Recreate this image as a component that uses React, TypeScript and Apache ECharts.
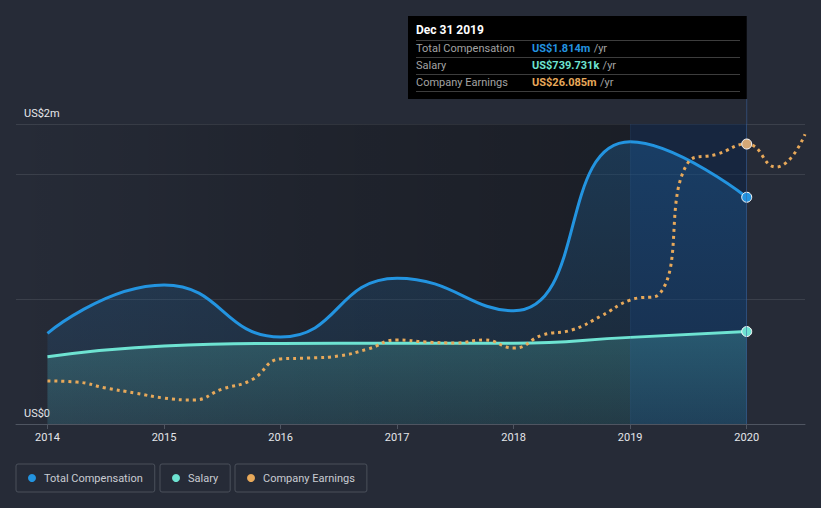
import React, { useEffect, useRef } from "react";
import * as echarts from "echarts";

// ---- data (US$ millions) ----
const years = [2014, 2015, 2016, 2017, 2018, 2019, 2020];
const totalCompensation = [0.725, 1.112, 0.696, 1.166, 0.906, 2.258, 1.814];
const salary = [0.538, 0.624, 0.645, 0.647, 0.647, 0.693, 0.7397];
const earningsDates = [
  2014.0, 2014.25, 2014.5, 2014.75, 2015.0, 2015.25, 2015.5, 2015.75, 2016.0, 2016.25,
  2016.5, 2016.75, 2017.0, 2017.25, 2017.5, 2017.75, 2018.0, 2018.25, 2018.5, 2018.75,
  2019.0, 2019.25, 2019.5, 2019.75, 2020.0, 2020.25, 2020.5,
];
const companyEarnings = [
  4.01, 3.91, 3.35, 2.89, 2.42, 2.24, 3.26, 4.1, 6.06, 6.15,
  6.34, 6.99, 7.83, 7.64, 7.55, 7.83, 7.08, 8.29, 8.76, 10.06,
  11.55, 12.11, 24.41, 25.15, 26.085, 23.94, 27.0,
];
const yTickLabels = ["US$0", "US$2m"];
const tooltipTitle = "Dec 31 2019";
const tooltipLabels = ["Total Compensation", "Salary", "Company Earnings"];
const tooltipValues = ["US$1.814m", "US$739.731k", "US$26.085m"];
const seriesNames = ["Total Compensation", "Salary", "Company Earnings"];
const highlightRange = [2019, 2020];

const BLUE = "#2394e0";
const TEAL = "#6ee3d2";
const ORANGE = "#e8a95a";
const BG = "#262b37";
const FONT = "Roboto";

export default function App() {
  const ref = useRef<HTMLDivElement>(null);
  useEffect(() => {
    document.body.style.margin = "0";
    document.body.style.background = BG;
    const chart = echarts.init(ref.current!, null, { renderer: "svg" });
    const lastIdx = (arr: number[]) => arr.length - 1;
    const endSymbol = (n: number) => (_v: any, p: any) => (p.dataIndex === n ? 10 : 0);
    const xMin = 2013.73;
    const xMax = 2020.5;
    const yMax = 2.4;
    const legendColors = [BLUE, TEAL, ORANGE];
    const legendLefts = [16, 160, 235];

    const legendBase = {
      top: 464,
      icon: "circle",
      itemWidth: 8,
      itemHeight: 8,
      padding: [7, 12, 7, 12],
      borderColor: "#4a505b",
      borderWidth: 1,
      borderRadius: 2,
      selectedMode: false,
      textStyle: { color: "#c9ccd2", fontSize: 11, fontFamily: FONT, padding: [0, 0, 0, 3], lineHeight: 14 },
    };

    chart.setOption({
      animation: false,
      backgroundColor: BG,
      textStyle: { fontFamily: FONT },
      grid: { left: 16, right: 16, top: 124, bottom: 84 },
      legend: seriesNames.map((n, i) => ({
        ...legendBase,
        left: legendLefts[i],
        data: [{ name: n, itemStyle: { color: legendColors[i], borderWidth: 0 } }],
      })),
      xAxis: {
        type: "value",
        min: xMin,
        max: xMax,
        axisLine: { lineStyle: { color: "#4f5561", width: 1 } },
        axisTick: { show: true, length: 5, lineStyle: { color: "#4f5561" }, customValues: years },
        axisLabel: {
          color: "#e4e6ea",
          fontSize: 11,
          fontFamily: FONT,
          margin: 8,
          customValues: years,
          formatter: (v: number) => String(Math.round(v)),
        },
        splitLine: { show: false },
      },
      yAxis: [
        {
          type: "value",
          min: 0,
          max: yMax,
          interval: 1,
          axisLine: { show: false },
          axisTick: { show: false },
          splitLine: { show: true, lineStyle: { color: "#3b404b", width: 1 } },
          axisLabel: {
            inside: true,
            margin: 8,
            color: "#e6e8ec",
            fontSize: 11,
            fontFamily: FONT,
            verticalAlign: "bottom",
            padding: [0, 0, 5, 0],
            formatter: (v: number) => (v === 0 ? yTickLabels[0] : v >= yMax - 0.01 ? yTickLabels[1] : ""),
          },
        },
        { type: "value", min: 0, max: 27.95, show: false, splitLine: { show: false } },
      ],
      series: [
        {
          type: "line",
          name: "bg",
          data: [],
          z: 1,
          silent: true,
          markArea: {
            silent: true,
            data: [
              [
                {
                  xAxis: xMin,
                  itemStyle: {
                    color: {
                      type: "linear", x: 0, y: 0, x2: 1, y2: 0,
                      colorStops: [
                        { offset: 0, color: "rgba(0,0,0,0)" },
                        { offset: 0.4, color: "rgba(0,0,0,0.18)" },
                        { offset: 0.8, color: "rgba(0,0,0,0.29)" },
                        { offset: 1, color: "rgba(0,0,0,0.3)" },
                      ],
                    },
                  },
                },
                { xAxis: highlightRange[1] },
              ],
              [
                { xAxis: highlightRange[0], itemStyle: { color: "rgba(10,70,160,0.2)" } },
                { xAxis: highlightRange[1] },
              ],
            ],
          },
          markLine: {
            silent: true,
            symbol: "none",
            label: { show: false },
            data: [
              { xAxis: highlightRange[0], lineStyle: { color: "rgba(60,100,150,0.15)", width: 1, type: "solid" } },
              { xAxis: highlightRange[1], lineStyle: { color: "rgba(60,100,160,0.55)", width: 1, type: "solid" } },
            ],
          },
        },
        {
          type: "line",
          name: seriesNames[0],
          z: 3,
          smooth: 0.5,
          color: BLUE,
          data: years.map((y, i) => [y, totalCompensation[i]]),
          symbol: "circle",
          symbolSize: endSymbol(lastIdx(totalCompensation)),
          showAllSymbol: true,
          itemStyle: { color: BLUE, borderColor: "#ffffff", borderWidth: 1 },
          lineStyle: { color: BLUE, width: 3 },
          areaStyle: {
            color: {
              type: "linear", x: 0, y: 0, x2: 0, y2: 1,
              colorStops: [
                { offset: 0, color: "rgba(33,150,243,0.3)" },
                { offset: 1, color: "rgba(33,150,243,0.1)" },
              ],
            },
          },
        },
        {
          type: "line",
          name: seriesNames[1],
          z: 4,
          smooth: 0.5,
          color: TEAL,
          data: years.map((y, i) => [y, salary[i]]),
          symbol: "circle",
          symbolSize: endSymbol(lastIdx(salary)),
          showAllSymbol: true,
          itemStyle: { color: TEAL, borderColor: "#ffffff", borderWidth: 1 },
          lineStyle: { color: TEAL, width: 3 },
          areaStyle: {
            color: {
              type: "linear", x: 0, y: 0, x2: 0, y2: 1,
              colorStops: [
                { offset: 0, color: "rgba(100,230,215,0.3)" },
                { offset: 1, color: "rgba(100,230,215,0.15)" },
              ],
            },
          },
        },
        {
          type: "line",
          name: seriesNames[2],
          z: 5,
          yAxisIndex: 1,
          smooth: 0.5,
          color: ORANGE,
          data: earningsDates.map((d, i) => [d, companyEarnings[i]]),
          symbol: "circle",
          symbolSize: endSymbol(earningsDates.indexOf(2020)),
          showAllSymbol: true,
          itemStyle: { color: "#d4a877", borderColor: "#ffffff", borderWidth: 1 },
          lineStyle: { color: ORANGE, width: 3, type: [3, 4], cap: "butt" },
        },
      ],
    });

    const x2020 = chart.convertToPixel({ xAxisIndex: 0 }, highlightRange[1]) as number;
    const yTop = chart.convertToPixel({ yAxisIndex: 0 }, yMax) as number;
    const boxLeft = 408;
    const boxTop = 16;
    const rowY = [48, 65, 82];
    const sepY = [40, 57, 74, 91];
    const valueColors = [BLUE, TEAL, ORANGE];
    const graphic: any[] = [
      {
        type: "line",
        silent: true,
        shape: { x1: x2020, y1: 99, x2: x2020, y2: yTop },
        style: { stroke: "rgba(60,100,160,0.55)", lineWidth: 1 },
      },
      {
        type: "rect",
        silent: true,
        shape: { x: boxLeft, y: boxTop, width: x2020 - boxLeft, height: 83 },
        style: { fill: "#000000" },
      },
      {
        type: "text",
        silent: true,
        x: 416,
        y: 30,
        style: { text: tooltipTitle, fill: "#ffffff", font: `bold 12px ${FONT}`, verticalAlign: "middle" },
      },
    ];
    sepY.forEach((y) =>
      graphic.push({
        type: "line",
        silent: true,
        shape: { x1: 416, y1: y + 0.5, x2: 740, y2: y + 0.5 },
        style: { stroke: "#3d3d3d", lineWidth: 1 },
      })
    );
    tooltipLabels.forEach((lab, i) => {
      graphic.push({
        type: "text",
        silent: true,
        x: 416,
        y: rowY[i],
        style: { text: lab, fill: "#a3a3a3", font: `11px ${FONT}`, verticalAlign: "middle" },
      });
      graphic.push({
        type: "text",
        silent: true,
        x: 532,
        y: rowY[i],
        style: {
          text: `{v|${tooltipValues[i]}} {u|/yr}`,
          verticalAlign: "middle",
          rich: {
            v: { fill: valueColors[i], font: `bold 11px ${FONT}` },
            u: { fill: "#a3a3a3", font: `11px ${FONT}` },
          },
        },
      });
    });
    chart.setOption({ graphic });

    return () => chart.dispose();
  }, []);
  return <div ref={ref} style={{ width: 821, height: 508 }} />;
}
